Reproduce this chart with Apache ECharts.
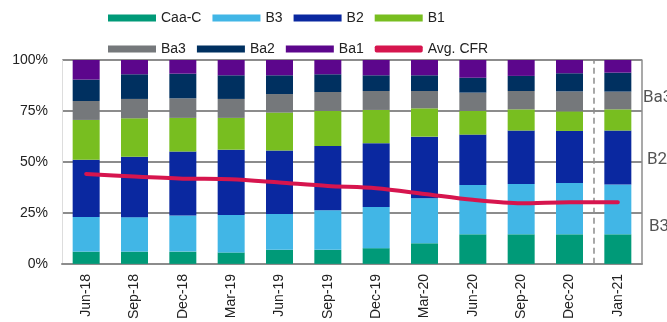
<!DOCTYPE html>
<html>
<head>
<meta charset="utf-8">
<script src="https://cdn.jsdelivr.net/npm/echarts@6/dist/echarts.min.js"></script>
<style>
  html, body { margin: 0; padding: 0; background: #fff; }
  #chart { width: 667px; height: 322px; }
</style>
</head>
<body>
<div id="chart"></div>
<script>
// quarters on the x axis
var quarters = ['Jun-18', 'Sep-18', 'Dec-18', 'Mar-19', 'Jun-19', 'Sep-19',
                'Dec-19', 'Mar-20', 'Jun-20', 'Sep-20', 'Dec-20', 'Jan-21'];

// rating mix, % of total (stacked bottom to top)
var caaC = [6.0, 6.0, 6.0, 5.6, 6.9, 6.9, 7.7, 10.1, 14.5, 14.5, 14.5, 14.5];
var b3   = [17.0, 16.9, 17.7, 18.4, 17.6, 19.4, 20.2, 22.1, 24.2, 24.7, 25.2, 24.4];
var b2   = [28.1, 29.7, 31.4, 32.0, 31.1, 31.5, 31.3, 30.2, 24.7, 26.2, 25.5, 26.5];
var b1   = [19.5, 18.8, 16.5, 15.6, 18.6, 17.2, 16.3, 13.9, 11.6, 10.4, 9.6, 10.4];
var ba3  = [9.3, 9.5, 9.6, 9.3, 9.1, 9.3, 9.3, 8.5, 9.0, 9.0, 9.8, 8.7];
var ba2  = [10.5, 12.1, 12.1, 11.6, 9.2, 8.7, 7.7, 7.7, 7.3, 7.4, 8.9, 9.3];
var ba1  = [9.6, 7.0, 6.7, 7.5, 7.5, 7.0, 7.5, 7.5, 8.7, 7.8, 6.5, 6.2];

// average cumulative default rate
var avgCfr = [44.1, 42.8, 41.8, 41.5, 39.9, 38.2, 37.1, 34.3, 31.4, 29.7, 30.2, 30.2];

var yTicks = [0, 25, 50, 75, 100];
var rightNotes = ['Ba3', 'B2', 'B3'];

var colors = {
    'Caa-C': '#009a78',
    'B3': '#41b6e6',
    'B2': '#0a28a0',
    'B1': '#78be20',
    'Ba3': '#75787b',
    'Ba2': '#003060',
    'Ba1': '#5c068c',
    'Avg. CFR': '#d6154e'
};

var textFont = 'Liberation Sans';

function barSeries(name, data) {
    return {
        name: name,
        type: 'bar',
        stack: 'mix',
        barWidth: 27,
        data: data,
        itemStyle: { color: colors[name] },
        emphasis: { disabled: true }
    };
}

var legendCommon = {
    left: 103,
    orient: 'horizontal',
    itemWidth: 48,
    itemHeight: 7,
    itemGap: 11,
    icon: 'rect',
    textStyle: { fontFamily: textFont, fontSize: 14, color: '#222', width: 60 }
};

var option = {
    animation: false,
    backgroundColor: '#fff',
    legend: [
        Object.assign({}, legendCommon, {
            top: 6,
            data: ['Caa-C', 'B3', 'B2', 'B1']
        }),
        Object.assign({}, legendCommon, {
            top: 37,
            data: ['Ba3', 'Ba2', 'Ba1', { name: 'Avg. CFR', icon: 'roundRect' }]
        })
    ],
    grid: { left: 62, right: 25, top: 60, bottom: 58 },
    xAxis: [
        {
            type: 'category',
            data: quarters,
            axisLine: { lineStyle: { color: '#8c8c8c', width: 2 } },
            axisTick: { show: false },
            axisLabel: {
                rotate: 90,
                margin: 10,
                fontFamily: textFont,
                fontSize: 14,
                color: '#222'
            }
        },
        {
            // helper axis for the dashed divider between Dec-20 and Jan-21
            type: 'value',
            min: 0,
            max: quarters.length,
            show: false
        }
    ],
    yAxis: [
        {
            type: 'value',
            min: yTicks[0],
            max: yTicks[yTicks.length - 1],
            interval: 25,
            axisLine: { show: true, lineStyle: { color: '#dddddd', width: 1 } },
            axisTick: { show: false },
            splitLine: { lineStyle: { color: '#8c8c8c', width: 2 } },
            axisLabel: {
                formatter: '{value}%',
                margin: 14,
                fontFamily: textFont,
                fontSize: 14,
                color: '#222'
            }
        },
        {
            type: 'value',
            min: 0,
            max: 100,
            position: 'right',
            axisLine: { show: true, lineStyle: { color: '#8c8c8c', width: 1.5 } },
            axisTick: { show: false },
            axisLabel: { show: false },
            splitLine: { show: false }
        }
    ],
    series: [
        barSeries('Caa-C', caaC),
        barSeries('B3', b3),
        barSeries('B2', b2),
        barSeries('B1', b1),
        barSeries('Ba3', ba3),
        barSeries('Ba2', ba2),
        barSeries('Ba1', ba1),
        {
            name: 'Avg. CFR',
            type: 'line',
            data: avgCfr,
            smooth: 0.3,
            symbol: 'none',
            z: 5,
            itemStyle: { color: colors['Avg. CFR'] },
            lineStyle: { color: colors['Avg. CFR'], width: 4, cap: 'round' },
            emphasis: { disabled: true }
        },
        {
            name: 'divider',
            type: 'line',
            xAxisIndex: 1,
            yAxisIndex: 0,
            data: [],
            markLine: {
                silent: true,
                symbol: 'none',
                label: { show: false },
                lineStyle: { color: '#8c8c8c', type: [6, 4], width: 1.5 },
                data: [{ xAxis: quarters.length - 1 }]
            }
        }
    ],
    graphic: [
        { type: 'text', left: 643, top: 89, style: { text: rightNotes[0], font: '17px Roboto', fill: '#555' } },
        { type: 'text', left: 647, top: 151, style: { text: rightNotes[1], font: '17px Roboto', fill: '#555' } },
        { type: 'text', left: 649, top: 218, style: { text: rightNotes[2], font: '17px Roboto', fill: '#555' } }
    ]
};

var myChart = echarts.init(document.getElementById('chart'), null, { renderer: 'canvas' });
myChart.setOption(option);
</script>
</body>
</html>
